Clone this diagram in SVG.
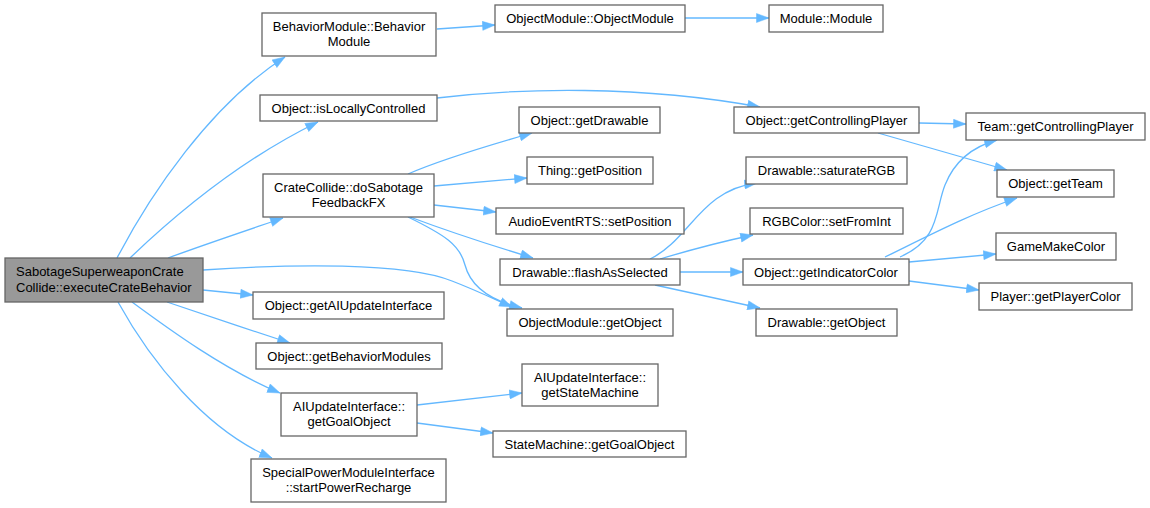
<svg xmlns="http://www.w3.org/2000/svg" width="1150" height="508" viewBox="0 0 1150 508">
<defs>
<marker id="ah" markerUnits="userSpaceOnUse" markerWidth="14" markerHeight="10" refX="13" refY="5" orient="auto">
<path d="M0.5,0.5 L13,5 L0.5,9.5 z" fill="#63b8ff" stroke="#63b8ff" stroke-width="0.5"/>
</marker>
<style>
.n rect{fill:#ffffff;stroke:#666666;stroke-width:1.3}
.n.m rect{fill:#999999}
text{font-family:"Liberation Sans",Arial,sans-serif;font-size:13px;fill:#000000;text-anchor:middle}
.n.m text{text-anchor:start}
#edges path{fill:none;stroke:#63b8ff;stroke-width:1.3;marker-end:url(#ah)}
</style>
</defs>
<rect width="1150" height="508" fill="#ffffff"/>
<g id="edges">
<path d="M117,258 C150,195 210,105 285,57"/>
<path d="M130,258 C175,215 240,160 318,122"/>
<path d="M168,258 C200,246 245,231 283,218"/>
<path d="M203,270 C290,264 405,262 452,281 C478,291 496,300 512,307"/>
<path d="M203,290 L253,295"/>
<path d="M167,302 C205,315 250,330 290,343"/>
<path d="M132,302 C170,330 225,370 280,393"/>
<path d="M118,302 C150,360 205,430 272,458"/>
<path d="M437,29 L495,25"/>
<path d="M685,18 L769,18"/>
<path d="M437,98 C520,88 640,85 760,107"/>
<path d="M408,174 C440,160 490,145 532,133"/>
<path d="M434,186 L527,178"/>
<path d="M434,205 L496,212"/>
<path d="M410,217 C450,232 500,248 533,258"/>
<path d="M408,217 C445,235 460,245 465,265 C471,288 492,301 522,308"/>
<path d="M650,259 C690,240 700,190 757,183"/>
<path d="M660,259 C690,250 720,242 753,235"/>
<path d="M680,272 L743,272"/>
<path d="M655,285 L760,308"/>
<path d="M919,123 L966,124"/>
<path d="M878,133 L1007,170"/>
<path d="M900,257 C940,240 935,210 945,185 C955,160 975,146 997,140"/>
<path d="M885,257 C930,235 970,214 1017,198"/>
<path d="M909,262 L996,254"/>
<path d="M909,281 L979,290"/>
<path d="M417,405 L522,393"/>
<path d="M417,423 L493,433"/>
</g>
<g id="n_main" class="n m"><rect x="5" y="258" width="198" height="44"/><text x="16" y="276">SabotageSuperweaponCrate</text><text x="16" y="292">Collide::executeCrateBehavior</text></g>
<g id="n_bm" class="n"><rect x="262" y="13" width="174" height="43"/><text x="349" y="31">BehaviorModule::Behavior</text><text x="349" y="46">Module</text></g>
<g id="n_ilc" class="n"><rect x="260" y="95" width="177" height="26"/><text x="348.5" y="112.5">Object::isLocallyControlled</text></g>
<g id="n_cc" class="n"><rect x="263" y="174" width="171" height="43"/><text x="348.5" y="192">CrateCollide::doSabotage</text><text x="348.5" y="207">FeedbackFX</text></g>
<g id="n_gaui" class="n"><rect x="253" y="292" width="191" height="27"/><text x="348.5" y="310">Object::getAIUpdateInterface</text></g>
<g id="n_gbm" class="n"><rect x="256" y="343" width="186" height="26"/><text x="349" y="360.5">Object::getBehaviorModules</text></g>
<g id="n_aigo" class="n"><rect x="281" y="393" width="136" height="43"/><text x="349" y="411">AIUpdateInterface::</text><text x="349" y="426">getGoalObject</text></g>
<g id="n_spm" class="n"><rect x="251" y="459" width="195" height="43"/><text x="348.5" y="477">SpecialPowerModuleInterface</text><text x="348.5" y="492">::startPowerRecharge</text></g>
<g id="n_om" class="n"><rect x="495" y="5" width="190" height="27"/><text x="590" y="23">ObjectModule::ObjectModule</text></g>
<g id="n_mm" class="n"><rect x="769" y="5" width="114" height="27"/><text x="826" y="23">Module::Module</text></g>
<g id="n_gd" class="n"><rect x="519" y="107" width="141" height="26"/><text x="589.5" y="124.5">Object::getDrawable</text></g>
<g id="n_gcp" class="n"><rect x="734" y="107" width="185" height="26"/><text x="826.5" y="124.5">Object::getControllingPlayer</text></g>
<g id="n_tgp" class="n"><rect x="527" y="157" width="126" height="27"/><text x="590" y="175">Thing::getPosition</text></g>
<g id="n_srgb" class="n"><rect x="746" y="157" width="161" height="27"/><text x="826.5" y="175">Drawable::saturateRGB</text></g>
<g id="n_aesp" class="n"><rect x="496" y="208" width="188" height="26"/><text x="590" y="225.5">AudioEventRTS::setPosition</text></g>
<g id="n_sfi" class="n"><rect x="750" y="208" width="153" height="26"/><text x="826.5" y="225.5">RGBColor::setFromInt</text></g>
<g id="n_fas" class="n"><rect x="500" y="259" width="180" height="26"/><text x="590" y="276.5">Drawable::flashAsSelected</text></g>
<g id="n_gic" class="n"><rect x="743" y="259" width="166" height="26"/><text x="826" y="276.5">Object::getIndicatorColor</text></g>
<g id="n_omgo" class="n"><rect x="507" y="309" width="166" height="27"/><text x="590" y="327">ObjectModule::getObject</text></g>
<g id="n_dgo" class="n"><rect x="756" y="309" width="141" height="27"/><text x="826.5" y="327">Drawable::getObject</text></g>
<g id="n_gsm" class="n"><rect x="522" y="364" width="136" height="42"/><text x="590" y="382">AIUpdateInterface::</text><text x="590" y="397">getStateMachine</text></g>
<g id="n_smgo" class="n"><rect x="493" y="431" width="193" height="26"/><text x="589.5" y="448.5">StateMachine::getGoalObject</text></g>
<g id="n_tcp" class="n"><rect x="966" y="113" width="179" height="27"/><text x="1055.5" y="131">Team::getControllingPlayer</text></g>
<g id="n_gt" class="n"><rect x="997" y="170" width="117" height="27"/><text x="1055.5" y="188">Object::getTeam</text></g>
<g id="n_gmc" class="n"><rect x="996" y="233" width="120" height="27"/><text x="1056" y="251">GameMakeColor</text></g>
<g id="n_gpc" class="n"><rect x="979" y="283" width="153" height="27"/><text x="1055.5" y="301">Player::getPlayerColor</text></g>
</svg>
